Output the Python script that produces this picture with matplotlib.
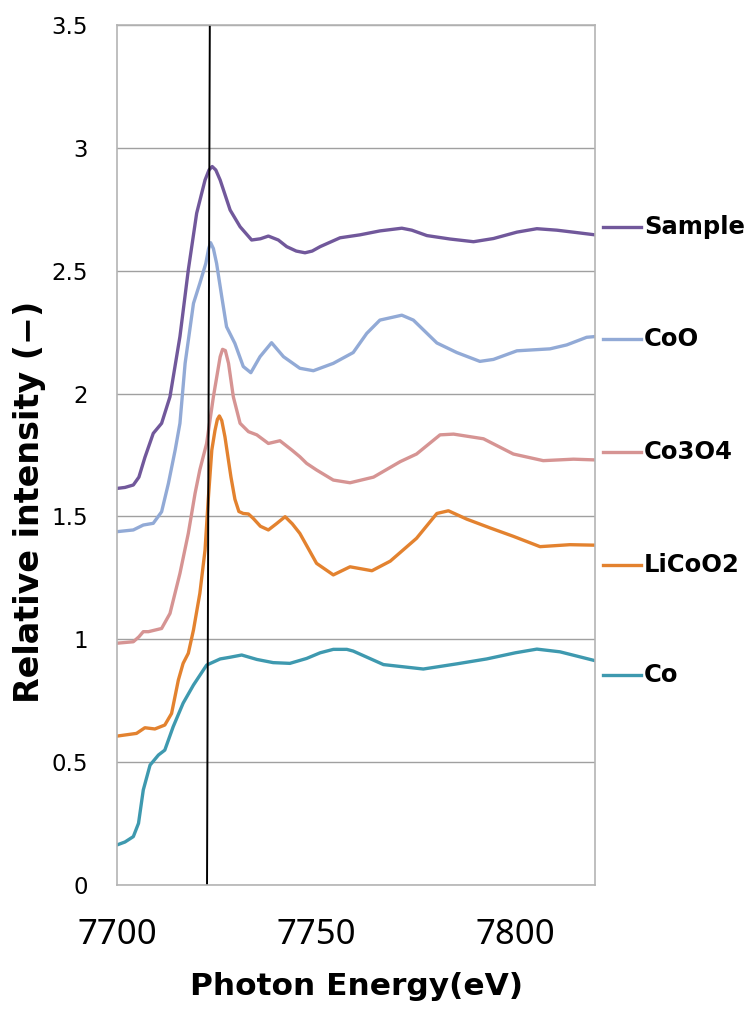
import numpy as np
import matplotlib
matplotlib.use('Agg')
import matplotlib.pyplot as plt

# data (x in eV, y relative intensity)
sample_x = [7700, 7702, 7704.1, 7705.5, 7707, 7709.1, 7711.2, 7713.3, 7715.8, 7717.9, 7720, 7722.1, 7723.1,
            7723.9, 7724.8, 7725.9, 7728.4, 7730.9, 7733.8, 7736, 7738, 7740.5, 7742.6, 7745, 7747.2, 7749,
            7751, 7756, 7761, 7766, 7771.5, 7774, 7777.8, 7783.6, 7789.5, 7794.5, 7800.4, 7805.4, 7810.4,
            7815, 7820]
sample_y = [1.614, 1.618, 1.628, 1.66, 1.74, 1.838, 1.879, 1.987, 2.232, 2.503, 2.734, 2.869, 2.91,
            2.924, 2.91, 2.869, 2.747, 2.679, 2.625, 2.63, 2.641, 2.625, 2.598, 2.58, 2.573, 2.58,
            2.598, 2.634, 2.646, 2.662, 2.673, 2.665, 2.643, 2.629, 2.618, 2.631, 2.657, 2.671, 2.665,
            2.656, 2.646]

coo_x = [7700, 7704.1, 7706.6, 7709.1, 7711.2, 7712.9, 7714.6, 7715.8, 7717.1, 7719.2, 7720.8, 7722.3, 7723,
         7723.5, 7724.2, 7725, 7726.3, 7727.5, 7729.6, 7731.7, 7733.6, 7735.9, 7738.8, 7741.8, 7745.9,
         7749.3, 7754.3, 7759.3, 7762.7, 7766, 7771.5, 7774.4, 7780.3, 7785.3, 7791.1, 7794.5, 7800.4,
         7808.7, 7812.9, 7817.9, 7820]
coo_y = [1.438, 1.445, 1.465, 1.472, 1.519, 1.634, 1.77, 1.879, 2.123, 2.367, 2.449, 2.53, 2.59,
         2.614, 2.59, 2.53, 2.394, 2.272, 2.204, 2.11, 2.085, 2.15, 2.207, 2.15, 2.103,
         2.093, 2.123, 2.167, 2.245, 2.299, 2.319, 2.299, 2.206, 2.167, 2.131, 2.139, 2.174,
         2.182, 2.198, 2.229, 2.232]

co3o4_x = [7700, 7704.1, 7705.5, 7706.6, 7707.9, 7711.2, 7713.3, 7715.8, 7717.9, 7719.6, 7720.8, 7722.5,
           7724.2, 7725.9, 7726.5, 7727.2, 7728, 7729.2, 7730.9, 7733, 7735.1, 7738, 7740.9, 7743.9,
           7745.9, 7747.6, 7750.1, 7754.3, 7758.5, 7764.4, 7771.1, 7775.2, 7781.1, 7784.5, 7792,
           7799.5, 7807, 7814.6, 7820]
co3o4_y = [0.984, 0.99, 1.01, 1.031, 1.031, 1.044, 1.105, 1.268, 1.431, 1.594, 1.69, 1.797,
           1.987, 2.15, 2.18, 2.175, 2.123, 1.987, 1.879, 1.845, 1.832, 1.797, 1.808, 1.77,
           1.743, 1.716, 1.689, 1.648, 1.637, 1.66, 1.723, 1.754, 1.832, 1.835, 1.816,
           1.754, 1.727, 1.733, 1.73]

licoo2_x = [7700, 7704.9, 7707, 7709.5, 7712, 7713.7, 7715.4, 7716.6, 7717.9, 7719.2, 7720.8, 7722.1,
            7722.9, 7723.8, 7724.6, 7725.2, 7725.7, 7726.3, 7727.1, 7728.6, 7729.6, 7730.6, 7731.7, 7733,
            7734.2, 7736, 7738, 7740, 7742.2, 7744, 7745.9, 7750.1, 7754.3, 7758.5, 7764, 7768.6, 7775.2,
            7780.3, 7783.2, 7787.8, 7793.7, 7799.5, 7806.2, 7813.7, 7820]
licoo2_y = [0.606, 0.617, 0.64, 0.635, 0.651, 0.698, 0.834, 0.902, 0.943, 1.038, 1.187, 1.363,
            1.567, 1.77, 1.85, 1.895, 1.909, 1.89, 1.824, 1.661, 1.57, 1.52, 1.512, 1.51,
            1.492, 1.46, 1.445, 1.47, 1.499, 1.47, 1.431, 1.309, 1.262, 1.295, 1.279, 1.318, 1.411,
            1.512, 1.523, 1.489, 1.453, 1.419, 1.377, 1.385, 1.383]

co_x = [7700, 7702, 7704.1, 7705.4, 7706.6, 7708.3, 7710.4, 7712, 7714.1, 7716.6, 7719.2, 7722.5, 7725.9,
        7728.4, 7731.3, 7735.1, 7739.2, 7743.4, 7747.6, 7751, 7754.3, 7757.7, 7759.3, 7766.9, 7776.9,
        7785.3, 7792.8, 7800, 7805.4, 7811.2, 7820]
co_y = [0.163, 0.175, 0.197, 0.251, 0.387, 0.488, 0.529, 0.549, 0.644, 0.74, 0.814, 0.895, 0.92,
        0.927, 0.936, 0.918, 0.905, 0.902, 0.922, 0.945, 0.959, 0.959, 0.952, 0.897, 0.879,
        0.9, 0.92, 0.945, 0.96, 0.949, 0.913]

names = ['Sample', 'CoO', 'Co3O4', 'LiCoO2', 'Co']
xs = [sample_x, coo_x, co3o4_x, licoo2_x, co_x]
ys = [sample_y, coo_y, co3o4_y, licoo2_y, co_y]
colors = ['#71589B', '#92AAD6', '#D69493', '#E3822F', '#3E99AF']

# vertical reference line (slightly tilted in the original)
ref_x = [7723.3, 7722.6]
ref_y = [3.5, 0]

fig = plt.figure(figsize=(7.51, 10.13), dpi=100)
ax = fig.add_axes([117/751, 1-885/1013, (595-117)/751, (885-25)/1013])

for x, y, c in zip(xs, ys, colors):
    ax.plot(x, y, color=c, lw=2.4, solid_joinstyle='round', solid_capstyle='round')
ax.plot(ref_x, ref_y, color='black', lw=1.4)

ax.set_xlim(7700, 7820)
ax.set_ylim(0, 3.5)
ax.set_xticks([7700, 7750, 7800])
ax.set_yticks(np.arange(0, 3.51, 0.5))
ax.set_yticklabels(['0', '0.5', '1', '1.5', '2', '2.5', '3', '3.5'])
ax.yaxis.grid(True, color='#a0a0a0', lw=1.0)
ax.set_axisbelow(True)
for s in ax.spines.values():
    s.set_color('#b4b4b4')
    s.set_linewidth(1.2)
ax.tick_params(length=0)
ax.tick_params(axis='y', pad=21, labelsize=16.5)
ax.tick_params(axis='x', pad=24, labelsize=25)
for t in ax.get_xticklabels():
    t.set_fontfamily('Noto Sans')

ax.set_xlabel('Photon Energy(eV)', fontsize=22.5, fontweight='bold', labelpad=14)
fig.text(30/751, 1-502/1013, 'Relative intensity (\u2212)', fontsize=24, fontweight='bold',
         rotation=90, ha='center', va='center')

# labels on the right side
leg_py = [227, 339, 452, 565, 675]
for name, c, py in zip(names, colors, leg_py):
    yf = 1 - py/1013
    fig.add_artist(plt.Line2D([603/751, 641/751], [yf, yf], color=c, lw=2.4))
    fig.text(644/751, yf, name, fontsize=17.5, fontweight='bold', va='center', ha='left')

fig.savefig('out.png', dpi=100)
